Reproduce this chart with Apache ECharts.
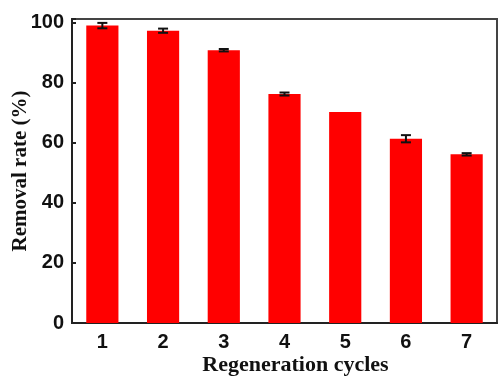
<!DOCTYPE html>
<html>
<head>
<meta charset="utf-8">
<script src="https://cdn.jsdelivr.net/npm/echarts@6/dist/echarts.min.js"></script>
<style>
  html, body { margin: 0; padding: 0; background: #fff; }
  #chart { width: 498px; height: 376px; }
</style>
</head>
<body>
<div id="chart"></div>
<script>
// data
var cycles = ['1', '2', '3', '4', '5', '6', '7']
var removalRate = [99.1, 97.4, 90.9, 76.3, 70.3, 61.4, 56.2]
var errorRate = [0.9, 0.7, 0.4, 0.5, 0, 1.2, 0.4]
var yTicks = [0, 20, 40, 60, 80, 100]

var myChart = echarts.init(document.getElementById('chart'))

var errData = removalRate.map(function (v, i) {
    return [i, v - errorRate[i], v + errorRate[i]]
})

myChart.setOption({
    animation: false,
    grid: {
        left: 72, right: 1, top: 19, bottom: 53,
        outerBoundsMode: 'none',
        containLabel: false,
        show: true, borderColor: '#444', borderWidth: 2
    },
    xAxis: {
        type: 'category',
        data: cycles,
        name: 'Regeneration cycles',
        nameLocation: 'middle',
        nameGap: 31,
        nameMoveOverlap: false,
        nameTextStyle: {
            fontFamily: 'Liberation Serif', fontWeight: 'bold', fontSize: 22,
            color: '#111', padding: [0, 0, 0, 22]
        },
        axisLine: { lineStyle: { color: '#222', width: 2 } },
        axisTick: { show: false },
        axisLabel: {
            fontFamily: 'Liberation Sans', fontWeight: 'bold', fontSize: 20,
            color: '#111', margin: 9
        }
    },
    yAxis: {
        type: 'value',
        min: 0,
        max: 101.3,
        interval: 20,
        name: 'Removal rate (%)',
        nameLocation: 'middle',
        nameGap: 41,
        nameMoveOverlap: false,
        nameTextStyle: {
            fontFamily: 'Liberation Serif', fontWeight: 'bold', fontSize: 21,
            color: '#111'
        },
        splitLine: { show: false },
        axisLine: { show: true, lineStyle: { color: '#222', width: 2 } },
        axisTick: { show: true, inside: true, length: 4, lineStyle: { color: '#222', width: 2 } },
        axisLabel: {
            fontFamily: 'Liberation Sans', fontWeight: 'bold', fontSize: 20,
            color: '#111', margin: 8,
            formatter: function (v) {
                return yTicks.indexOf(v) >= 0 ? String(v) : ''
            }
        }
    },
    series: [{
        type: 'bar',
        data: removalRate,
        barWidth: '53%',
        itemStyle: { color: '#ff0000' }
    }, {
        type: 'custom',
        data: errData,
        z: 5,
        renderItem: function (params, api) {
            if (api.value(2) - api.value(1) <= 0) return
            var lo = api.coord([api.value(0), api.value(1)])
            var hi = api.coord([api.value(0), api.value(2)])
            var hw = 5
            var style = { stroke: '#111', lineWidth: 2 }
            return {
                type: 'group',
                children: [
                    { type: 'line', shape: { x1: hi[0], y1: hi[1], x2: lo[0], y2: lo[1] }, style: style },
                    { type: 'line', shape: { x1: hi[0] - hw, y1: hi[1], x2: hi[0] + hw, y2: hi[1] }, style: style },
                    { type: 'line', shape: { x1: lo[0] - hw, y1: lo[1], x2: lo[0] + hw, y2: lo[1] }, style: style }
                ]
            }
        }
    }]
})
</script>
</body>
</html>
